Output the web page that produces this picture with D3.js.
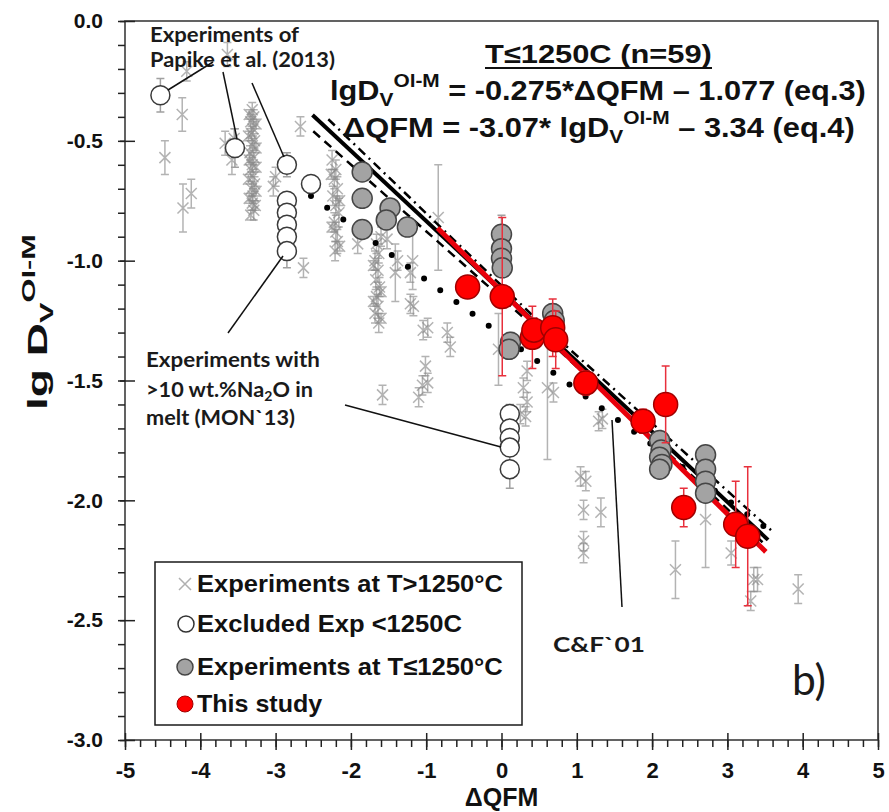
<!DOCTYPE html>
<html>
<head>
<meta charset="utf-8">
<script src="https://cdn.jsdelivr.net/npm/d3@7"></script>
<style>
  body { margin: 0; background: #fff; }
</style>
</head>
<body>
<script>
// [ΔQFM, lg D, error]
const hotRuns = [
  [-4.18, -0.21, 0.04], [-3.64, -0.14, 0.05], [-4.24, -0.39, 0.07],
  [-4.47, -0.57, 0.07], [-4.12, -0.72, 0.06], [-4.23, -0.78, 0.10],
  [-3.67, -0.51, 0.05], [-3.58, -0.58, 0.06], [-3.55, -0.49, 0.04],
  [-3.31, -0.37, 0.03], [-3.29, -0.40, 0.03], [-3.33, -0.42, 0.03], [-3.30, -0.45, 0.03],
  [-3.32, -0.47, 0.03], [-3.28, -0.50, 0.03], [-3.31, -0.52, 0.03], [-3.34, -0.55, 0.03],
  [-3.29, -0.57, 0.03], [-3.31, -0.60, 0.03], [-3.33, -0.62, 0.03], [-3.30, -0.65, 0.03],
  [-3.28, -0.68, 0.03], [-3.32, -0.70, 0.03], [-3.30, -0.73, 0.03], [-3.31, -0.76, 0.03],
  [-3.29, -0.79, 0.04],
  [-3.35, -0.39, 0.02], [-3.26, -0.43, 0.02], [-3.36, -0.48, 0.02], [-3.26, -0.53, 0.02],
  [-3.35, -0.58, 0.02], [-3.26, -0.61, 0.02], [-3.36, -0.66, 0.02], [-3.26, -0.71, 0.02],
  [-3.35, -0.74, 0.02], [-3.27, -0.77, 0.02], [-3.33, -0.81, 0.02],
  [-3.03, -0.69, 0.04], [-3.00, -0.65, 0.04], [-2.67, -0.44, 0.04], [-2.63, -1.03, 0.04],
  [-2.25, -0.58, 0.04], [-2.20, -0.62, 0.04], [-2.22, -0.66, 0.04], [-2.18, -0.70, 0.05],
  [-2.24, -0.73, 0.04], [-2.20, -0.77, 0.04], [-2.16, -0.80, 0.06], [-2.22, -0.84, 0.04],
  [-2.20, -0.88, 0.04], [-2.18, -0.92, 0.05], [-2.21, -0.96, 0.04],
  [-2.26, -0.64, 0.02], [-2.15, -0.75, 0.02], [-2.25, -0.86, 0.02], [-2.15, -0.94, 0.02],
  [-1.91, -0.93, 0.04],
  [-1.66, -0.93, 0.04], [-1.63, -0.97, 0.04], [-1.68, -1.00, 0.04], [-1.64, -1.04, 0.05],
  [-1.67, -1.08, 0.04], [-1.62, -1.11, 0.04], [-1.66, -1.15, 0.04], [-1.64, -1.19, 0.05],
  [-1.68, -1.22, 0.04], [-1.63, -1.26, 0.04],
  [-1.70, -1.02, 0.02], [-1.60, -1.13, 0.02], [-1.70, -1.17, 0.02], [-1.60, -1.24, 0.02],
  [-1.60, -0.90, 0.04], [-1.52, -0.91, 0.04], [-1.58, -1.56, 0.04],
  [-1.41, -1.05, 0.12], [-1.38, -1.00, 0.04], [-1.18, -1.00, 0.12], [-1.21, -1.05, 0.04],
  [-1.21, -1.18, 0.04], [-1.17, -1.19, 0.04], [-1.04, -1.29, 0.04], [-0.98, -1.28, 0.04],
  [-0.84, -0.82, 0.22], [-0.72, -1.30, 0.04], [-0.68, -1.36, 0.04], [-1.01, -1.44, 0.04],
  [-1.05, -1.52, 0.04], [-1.10, -1.57, 0.04], [-0.98, -1.51, 0.04],
  [-0.04, -1.37, 0.15], [0.34, -1.46, 0.04], [0.29, -1.53, 0.04], [0.34, -1.59, 0.04],
  [0.61, -1.53, 0.30], [0.69, -1.55, 0.04], [0.25, -1.64, 0.04], [0.32, -1.65, 0.04],
  [1.29, -1.67, 0.04], [1.34, -1.66, 0.04], [1.05, -1.90, 0.04], [1.12, -1.92, 0.04],
  [1.09, -2.04, 0.04], [1.32, -2.05, 0.06], [1.09, -2.17, 0.04], [1.09, -2.22, 0.04],
  [2.31, -2.29, 0.12], [2.71, -2.08, 0.20], [3.05, -2.22, 0.05], [3.40, -2.33, 0.05],
  [3.35, -2.33, 0.05], [3.31, -2.42, 0.04], [3.94, -2.37, 0.06]
];

const excludedRuns = [
  [-4.53, -0.31, 0.07], [-3.54, -0.53, 0.08], [-2.85, -0.60, 0.05],
  [-2.53, -0.68, 0.03],
  [-2.85, -0.75, 0.03], [-2.85, -0.80, 0.03], [-2.85, -0.85, 0.03],
  [-2.85, -0.90, 0.03], [-2.85, -0.96, 0.07],
  [0.11, -1.64, 0.04], [0.11, -1.70, 0.03], [0.11, -1.74, 0.03],
  [0.11, -1.78, 0.03], [0.11, -1.87, 0.08]
];

const coolRuns = [
  [-1.85, -0.63, 0.03], [-1.85, -0.74, 0.03], [-1.48, -0.78, 0.03],
  [-1.53, -0.83, 0.04], [-1.25, -0.86, 0.03], [-1.85, -0.87, 0.03],
  [0.00, -0.89, 0.08], [0.00, -0.95, 0.03], [0.00, -0.99, 0.03], [0.01, -1.03, 0.03],
  [0.12, -1.34, 0.04], [0.10, -1.37, 0.04],
  [0.68, -1.22, 0.04], [0.70, -1.25, 0.04],
  [2.10, -1.75, 0.03], [2.12, -1.79, 0.03], [2.10, -1.82, 0.03],
  [2.13, -1.85, 0.03], [2.10, -1.87, 0.03],
  [2.71, -1.81, 0.03], [2.71, -1.87, 0.03], [2.71, -1.92, 0.03], [2.71, -1.97, 0.03]
];

const thisStudy = [
  [-0.45, -1.11, 0.03], [0.01, -1.15, 0.33], [0.41, -1.32, 0.13],
  [0.43, -1.29, 0.05], [0.68, -1.28, 0.12], [0.72, -1.33, 0.12],
  [1.12, -1.51, 0.05], [1.88, -1.67, 0.05], [2.18, -1.60, 0.16],
  [2.42, -2.03, 0.08], [3.11, -2.10, 0.18], [3.27, -2.15, 0.29]
];

// fitted lines and their bands, [ΔQFM, lg D] vertices
const fitLow = [[-2.51, -0.392], [3.54, -2.165]];
const fitStudy = [[-0.85, -0.864], [3.51, -2.215]];
const bandUpper = [[-2.30, -0.41], [0.50, -1.255], [3.60, -2.13]];
const bandLower = [[-2.50, -0.46], [0.50, -1.295], [3.50, -2.185]];
const cf01 = [[-2.53, -0.73], [3.55, -2.124]];

const xTicks = [-5, -4, -3, -2, -1, 0, 1, 2, 3, 4, 5];
const xTickLabels = ["-5", "-4", "-3", "-2", "-1", "0", "1", "2", "3", "4", "5"];
const yTicks = [0, -0.5, -1, -1.5, -2, -2.5, -3];
const yTickLabels = ["0.0", "-0.5", "-1.0", "-1.5", "-2.0", "-2.5", "-3.0"];

const legendItems = ["Experiments at T>1250°C", "Excluded Exp <1250C", "Experiments at T≤1250°C", "This study"];

const width = 889;
const height = 812;
const arial = "'Liberation Sans', Arial, sans-serif";
const calibri = "Lato, 'Open Sans', sans-serif";

const x = d3.scaleLinear().domain([-5, 5]).range([125, 878]);
const y = d3.scaleLinear().domain([0, -3]).range([21, 740]);

const svg = d3.create("svg")
  .attr("width", width)
  .attr("height", height)
  .attr("viewBox", [0, 0, width, height]);

svg.append("rect").attr("width", width).attr("height", height).attr("fill", "#fff");

document.body.appendChild(svg.node());

// stretch a text horizontally so it spans x0..x1
function fit(text, x0, x1) {
  const b = text.node().getBBox();
  const k = (x1 - x0) / b.width;
  text.attr("transform", `translate(${x0},0) scale(${k},1) translate(${-b.x},0)`);
  return text;
}

const line = d3.line().x(d => x(d[0])).y(d => y(d[1]));

// ---- T>1250 runs: error bars + crosses
const hot = svg.append("g")
  .attr("stroke", "#8a8a8a")
  .attr("stroke-opacity", 0.65)
  .attr("stroke-width", 1.5)
  .attr("fill", "none");

hot.selectAll("path")
  .data(hotRuns)
  .join("path")
  .attr("d", ([dx, dy, e]) => {
    const px = x(dx), py = y(dy), y0 = y(dy - e), y1 = y(dy + e), s = 5.5;
    return `M${px},${y0}V${y1}M${px - 4},${y0}H${px + 4}M${px - 4},${y1}H${px + 4}` +
      `M${px - s},${py - s}L${px + s},${py + s}M${px - s},${py + s}L${px + s},${py - s}`;
  });

// ---- C&F`01 dotted line, confidence band and fits
svg.append("path")
  .datum(cf01)
  .attr("d", line)
  .attr("fill", "none")
  .attr("stroke", "#000")
  .attr("stroke-width", 6)
  .attr("stroke-linecap", "round")
  .attr("stroke-dasharray", "0,20");

svg.append("path")
  .datum(bandUpper)
  .attr("d", line)
  .attr("fill", "none")
  .attr("stroke", "#000")
  .attr("stroke-width", 2.5)
  .attr("stroke-dasharray", "9,5,2,5");

svg.append("path")
  .datum(bandLower)
  .attr("d", line)
  .attr("fill", "none")
  .attr("stroke", "#000")
  .attr("stroke-width", 2.5)
  .attr("stroke-dasharray", "9,6");

svg.append("path")
  .datum(fitLow)
  .attr("d", line)
  .attr("stroke", "#000")
  .attr("stroke-width", 4);

svg.append("path")
  .datum(fitStudy)
  .attr("d", line)
  .attr("stroke", "#e8000b")
  .attr("stroke-width", 5);

// ---- circles with error bars
function circles(data, r, fill, stroke, barColor) {
  const g = svg.append("g");
  g.append("g")
    .attr("stroke", barColor)
    .attr("stroke-width", 1.5)
    .attr("fill", "none")
    .selectAll("path")
    .data(data)
    .join("path")
    .attr("d", ([dx, dy, e]) => {
      const px = x(dx), y0 = y(dy - e), y1 = y(dy + e);
      return `M${px},${y0}V${y1}M${px - 4},${y0}H${px + 4}M${px - 4},${y1}H${px + 4}`;
    });
  g.append("g")
    .selectAll("circle")
    .data(data)
    .join("circle")
    .attr("cx", d => x(d[0]))
    .attr("cy", d => y(d[1]))
    .attr("r", r)
    .attr("fill", fill)
    .attr("stroke", stroke)
    .attr("stroke-width", 1.5);
}

circles(coolRuns, 10, "#a3a3a3", "#454545", "#a0a0a0");
circles(excludedRuns, 9.5, "#fff", "#3a3a3a", "#a0a0a0");
circles(thisStudy, 12, "#ff0000", "#a00000", "#e8303c");

// ---- frame and axes
svg.append("rect")
  .attr("x", x(-5)).attr("y", y(0))
  .attr("width", x(5) - x(-5)).attr("height", y(-3) - y(0))
  .attr("fill", "none")
  .attr("stroke", "#3c3c3c")
  .attr("stroke-width", 1.6);

const styleAxis = g => g
  .attr("font-family", arial)
  .attr("font-size", 22)
  .attr("font-weight", "bold")
  .call(g => g.select(".domain").remove())
  .call(g => g.selectAll(".tick line").attr("stroke", "#222").attr("stroke-width", 1.5));

svg.append("g")
  .attr("transform", `translate(0,${y(-3)})`)
  .call(d3.axisBottom(x).ticks(50).tickSize(7).tickFormat(""))
  .call(styleAxis);
svg.append("g")
  .attr("transform", `translate(0,${y(-3)})`)
  .call(d3.axisBottom(x).tickValues(xTicks).tickSize(-7).tickFormat(""))
  .call(styleAxis);
svg.append("g")
  .attr("transform", `translate(0,${y(-3)})`)
  .call(d3.axisBottom(x).tickValues(xTicks).tickSize(10).tickPadding(12)
    .tickFormat((d, i) => xTickLabels[i]))
  .call(styleAxis)
  .call(g => g.selectAll("text").attr("fill", "#111"));

svg.append("g")
  .attr("transform", `translate(${x(-5)},0)`)
  .call(d3.axisLeft(y).ticks(30).tickSize(7).tickFormat(""))
  .call(styleAxis);
svg.append("g")
  .attr("transform", `translate(${x(-5)},0)`)
  .call(d3.axisLeft(y).tickValues(yTicks).tickSize(-10).tickFormat(""))
  .call(styleAxis);
svg.append("g")
  .attr("transform", `translate(${x(-5)},0)`)
  .call(d3.axisLeft(y).tickValues(yTicks).tickSize(5).tickPadding(17)
    .tickFormat((d, i) => yTickLabels[i]))
  .call(styleAxis)
  .call(g => g.selectAll("text").attr("font-size", 21).attr("fill", "#111"));

// axis titles
svg.append("text")
  .attr("x", x(0)).attr("y", 806)
  .attr("text-anchor", "middle")
  .attr("font-family", arial).attr("font-size", 25).attr("font-weight", "bold")
  .attr("fill", "#111")
  .text("ΔQFM");

const yTitleG = svg.append("g").attr("transform", "translate(47,410) rotate(-90)");
const yTitle = yTitleG.append("text")
  .attr("font-family", arial).attr("font-size", 27).attr("font-weight", "bold")
  .attr("fill", "#111");
yTitle.append("tspan").text("lg D");
yTitle.append("tspan").attr("font-size", 18).attr("dy", 6).text("V");
yTitle.append("tspan").attr("font-size", 18).attr("dy", -18).text("Ol-M");
fit(yTitle, 0, 176);

// ---- equations
const eqFont = t => t.attr("font-family", arial).attr("font-weight", "bold").attr("fill", "#111");

const head = svg.append("text").attr("y", 63).attr("font-size", 26).call(eqFont).text("T≤1250C (n=59)");
fit(head, 485, 712);
svg.append("line")
  .attr("x1", 485).attr("x2", 712).attr("y1", 68).attr("y2", 68)
  .attr("stroke", "#111").attr("stroke-width", 2);

const eq3 = svg.append("text").attr("y", 100).attr("font-size", 28).call(eqFont);
eq3.append("tspan").text("lgD");
eq3.append("tspan").attr("font-size", 19).attr("dy", 6).text("V");
eq3.append("tspan").attr("font-size", 19).attr("dy", -19).text("Ol-M");
eq3.append("tspan").attr("dy", 13).text(" = -0.275*ΔQFM – 1.077 (eq.3)");
fit(eq3, 330, 866);

const eq4 = svg.append("text").attr("y", 137).attr("font-size", 28).call(eqFont);
eq4.append("tspan").text("ΔQFM = -3.07* lgD");
eq4.append("tspan").attr("font-size", 19).attr("dy", 6).text("V");
eq4.append("tspan").attr("font-size", 19).attr("dy", -19).text("Ol-M");
eq4.append("tspan").attr("dy", 13).text(" – 3.34 (eq.4)");
fit(eq4, 343, 855);

// ---- annotations
const note = (txt, yy, x0, x1, size = 20) => {
  const t = svg.append("text").attr("y", yy)
    .attr("font-family", calibri).attr("font-weight", "bold")
    .attr("font-size", size).attr("fill", "#1a1a1a");
  if (typeof txt === "function") txt(t); else t.text(txt);
  return fit(t, x0, x1);
};

note("Experiments of", 42, 150, 300);
note("Papike et al. (2013)", 67, 150, 335);
note("Experiments with", 367, 146, 320);
note(t => {
  t.append("tspan").text(">10 wt.%Na");
  t.append("tspan").attr("font-size", 13).attr("dy", 4).text("2");
  t.append("tspan").attr("dy", -4).text("O in");
}, 397, 146, 313);
note("melt (MON`13)", 425, 146, 295);
note("C&F`01", 652, 553, 645, 21);

const tag = svg.append("text").attr("y", 695)
  .attr("font-family", calibri).attr("font-size", 42).attr("fill", "#1a1a1a")
  .text("b)");
fit(tag, 792, 826);

const leaders = [
  [[213, 62], [168, 90]],
  [[223, 72], [237, 139]],
  [[252, 83], [284, 157]],
  [[283, 256], [228, 333]],
  [[345, 405], [501, 447]],
  [[612, 420], [622, 607]]
];
svg.append("g")
  .attr("stroke", "#111")
  .attr("stroke-width", 1.5)
  .selectAll("line")
  .data(leaders)
  .join("line")
  .attr("x1", d => d[0][0]).attr("y1", d => d[0][1])
  .attr("x2", d => d[1][0]).attr("y2", d => d[1][1]);

// ---- legend
const legend = svg.append("g");
legend.append("rect")
  .attr("x", 155).attr("y", 562).attr("width", 367).attr("height", 163)
  .attr("fill", "#fff").attr("stroke", "#1a1a1a").attr("stroke-width", 1.5);

const rowY = [584, 624, 667, 704];
const rowEnd = [503, 462, 503, 323];

legend.append("path")
  .attr("d", `M179,${rowY[0] - 6}L191,${rowY[0] + 6}M179,${rowY[0] + 6}L191,${rowY[0] - 6}`)
  .attr("stroke", "#b0b0b0").attr("stroke-width", 1.5);
legend.append("circle").attr("cx", 186).attr("cy", rowY[1]).attr("r", 8)
  .attr("fill", "#fff").attr("stroke", "#333").attr("stroke-width", 1.5);
legend.append("circle").attr("cx", 185).attr("cy", rowY[2]).attr("r", 8)
  .attr("fill", "#a3a3a3").attr("stroke", "#454545").attr("stroke-width", 1.5);
legend.append("circle").attr("cx", 185).attr("cy", rowY[3]).attr("r", 8)
  .attr("fill", "#ff0000").attr("stroke", "#a00000").attr("stroke-width", 1);

legendItems.forEach((label, i) => {
  const t = legend.append("text")
    .attr("y", rowY[i] + 8)
    .attr("font-family", arial).attr("font-size", 24).attr("font-weight", "bold")
    .attr("fill", "#111")
    .text(label);
  fit(t, 197, rowEnd[i]);
});
</script>
</body>
</html>
